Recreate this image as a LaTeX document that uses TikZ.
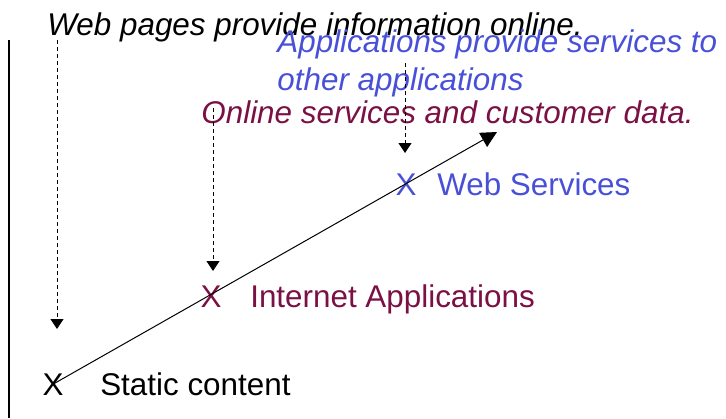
\documentclass[tikz,border=0pt]{standalone}
\usepackage{fontspec}
\setmainfont{Liberation Sans}
\usetikzlibrary{arrows.meta}
\usetikzlibrary{positioning}
\definecolor{wsblue}{RGB}{72,80,216}
\definecolor{iared}{RGB}{122,16,68}

\begin{document}
\begin{tikzpicture}[x=0.5pt,y=-0.5pt,
  every node/.style={inner sep=0pt,font=\fontsize{15.7}{19}\selectfont},
  xnode/.style={anchor=base},
  note/.style={font=\fontsize{15.7}{19}\selectfont\itshape,anchor=base west,align=left},
  hint/.style={dash pattern=on 2pt off 1.5pt,line width=0.5pt,-{Triangle[width=6.5pt,length=5pt]}},
  trendline/.style={line width=0.5pt,-{Triangle[width=8pt,length=8pt]}}]
  \useasboundingbox (0,0) rectangle (726,418);
  \node[xnode] (sx) at (53,395) {X};
  \node[xnode,iared] (ia) at (211,307) {X};
  \node[xnode,wsblue] (ws) at (406,195) {X};
  \node[base right=18pt of sx] (sxt) {Static content};
  \node[base right=14pt of ia,iared] (iat) {Internet Applications};
  \node[base right=10pt of ws,wsblue] (wst) {Web Services};
  \node[note] (wp) at (47,35) {Web pages provide information online.};
  \node[note,wsblue] (ap) at (277,90) {Applications provide services to\\other applications};
  \node[note,iared] (os) at (201,123) {Online services and customer data.};
  \coordinate (ax1) at (9,40);
  \coordinate (ax2) at (9,418);
  \coordinate (top) at (497,132);
  \coordinate (wp1) at (57,40);
  \coordinate (wp2) at (57,329);
  \coordinate (os1) at (213,108);
  \coordinate (os2) at (213,271);
  \coordinate (ap1) at (405,63);
  \coordinate (ap2) at (405,153);
  \draw[line width=0.8pt](ax1)--(ax2);
  \draw[trendline](sx.center)--(top);
  \draw[hint](wp1)--(wp2);
  \draw[hint](os1)--(os2);
  \draw[hint](ap1)--(ap2);
\end{tikzpicture}
\end{document}
